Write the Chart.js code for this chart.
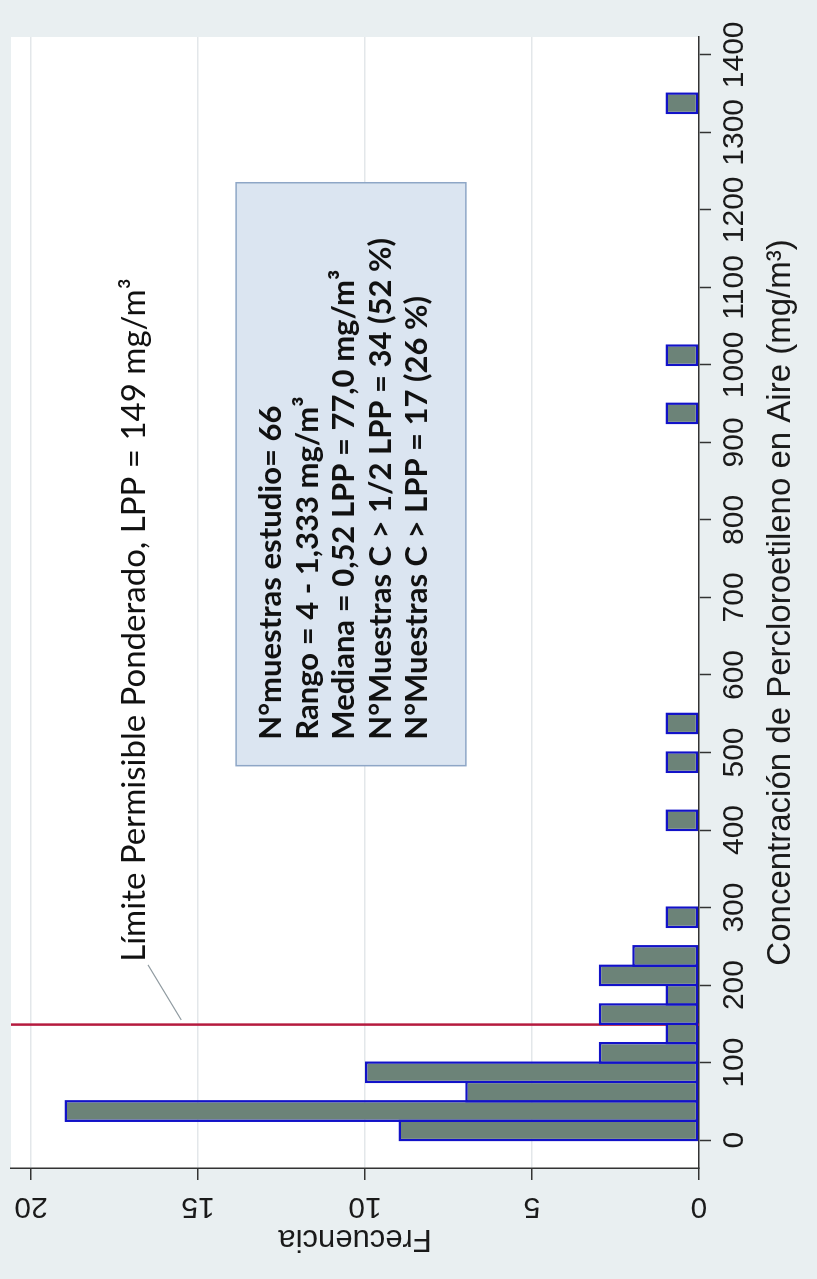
<!DOCTYPE html>
<html>
<head>
<meta charset="utf-8">
<script src="https://cdn.jsdelivr.net/npm/chart.js@4.4.1/dist/chart.umd.min.js"></script>
<style>
  html, body { margin: 0; padding: 0; width: 817px; height: 1279px; overflow: hidden; background: #e9eff1; }
  /* the chart is laid out landscape and turned a quarter turn counter-clockwise */
  #wrap { position: absolute; left: 0; top: 0; width: 1279px; height: 817px;
          transform-origin: 0 0; transform: translateY(1279px) rotate(-90deg); }
  canvas { display: block; }
</style>
</head>
<body>
<div id="wrap"><canvas id="chart" width="1279" height="817"></canvas></div>
<script>
// Histogram of air concentrations (bins of 25 mg/m3, lower edges) and their counts
const binStarts   = [0, 25, 50, 75, 100, 125, 150, 175, 200, 225, 275, 400, 475, 525, 925, 1000, 1325];
const frequencies = [9, 19, 7, 10, 3, 1, 3, 1, 3, 2, 1, 1, 1, 1, 1, 1, 1];
const binWidth = 25;

const concTicks = [0, 100, 200, 300, 400, 500, 600, 700, 800, 900, 1000, 1100, 1200, 1300, 1400];
const freqTicks = [0, 5, 10, 15, 20];

const lppValue = 149;
const lppLabel = 'Límite Permisible Ponderado, LPP = 149 mg/m³';
const statLines = [
  'N°muestras estudio= 66',
  'Rango = 4 - 1,333 mg/m³',
  'Mediana = 0,52 LPP = 77,0 mg/m³',
  'N°Muestras C > 1/2 LPP = 34 (52 %)',
  'N°Muestras C > LPP = 17 (26 %)'
];
const xTitle = 'Concentración de Percloroetileno en Aire (mg/m³)';
const yTitle = 'Frecuencia';

const AXIS_FONT = "'Liberation Sans', Arial, sans-serif";
const NOTE_FONT = "Lato, 'Open Sans', sans-serif";

const histData = frequencies.map((f, i) => ({ x: binStarts[i] + binWidth / 2, y: f }));

// white plot region on the tinted page
const plotBackground = {
  id: 'plotBackground',
  beforeDraw(chart) {
    const { ctx, chartArea: a } = chart;
    ctx.save();
    ctx.fillStyle = '#ffffff';
    ctx.fillRect(a.left, a.top, a.right - a.left, a.bottom - a.top);
    ctx.restore();
  }
};

// reference line at the limit, drawn underneath the bars
const lppLine = {
  id: 'lppLine',
  beforeDatasetsDraw(chart) {
    const { ctx, chartArea, scales } = chart;
    const px = scales.x.getPixelForValue(lppValue);
    ctx.save();
    ctx.strokeStyle = '#b51a3e';
    ctx.lineWidth = 2.5;
    ctx.beginPath();
    ctx.moveTo(px, chartArea.top);
    ctx.lineTo(px, chartArea.bottom);
    ctx.stroke();
    ctx.restore();
  }
};

// limit label with its leader, and the summary box
const notes = {
  id: 'notes',
  afterDatasetsDraw(chart) {
    const { ctx, scales } = chart;
    const X = v => scales.x.getPixelForValue(v);
    const Y = v => scales.y.getPixelForValue(v);
    ctx.save();

    // leader from the label to the line
    ctx.strokeStyle = '#8f9aa0';
    ctx.lineWidth = 1.2;
    ctx.beginPath();
    ctx.moveTo(X(226), Y(16.5));
    ctx.lineTo(X(155), Y(15.5));
    ctx.stroke();

    ctx.fillStyle = '#111';
    ctx.font = '33px ' + NOTE_FONT;
    ctx.textBaseline = 'alphabetic';
    ctx.textAlign = 'left';
    ctx.fillText(lppLabel, X(230), Y(16.6));

    // summary box
    const bx0 = X(483), bx1 = X(1235), by0 = Y(13.86), by1 = Y(6.98);
    ctx.fillStyle = '#dbe5f1';
    ctx.fillRect(bx0, by0, bx1 - bx0, by1 - by0);
    ctx.strokeStyle = '#8ea6c6';
    ctx.lineWidth = 1.5;
    ctx.strokeRect(bx0, by0, bx1 - bx0, by1 - by0);

    ctx.fillStyle = '#111';
    ctx.font = 'bold 31px ' + NOTE_FONT;
    const firstBase = by0 + 45;
    statLines.forEach((t, i) => ctx.fillText(t, bx0 + 26, firstBase + i * 36.5));

    ctx.restore();
  }
};

// keep the plot area where the layout puts it (no extra room for edge labels)
const noEdgePadding = s => { s.paddingTop = 0; s.paddingBottom = 0; s.paddingLeft = 0; s.paddingRight = 0; };

new Chart(document.getElementById('chart'), {
  type: 'bar',
  data: {
    datasets: [{
      data: histData,
      backgroundColor: '#6c8378',
      borderColor: '#1212c8',
      borderWidth: 2.5,
      borderSkipped: false,
      categoryPercentage: 1,
      barPercentage: 1.13
    }]
  },
  options: {
    responsive: false,
    animation: false,
    devicePixelRatio: 1,
    layout: { padding: { top: 11, right: 37, left: 0, bottom: 0 } },
    plugins: { legend: { display: false }, tooltip: { enabled: false } },
    scales: {
      x: {
        type: 'linear',
        offset: false,
        min: -36,
        max: 1423,
        afterBuildTicks: s => { s.ticks = concTicks.map(v => ({ value: v })); },
        afterFit: s => { s.height = 118; noEdgePadding(s); },
        ticks: {
          autoSkip: false, minRotation: 0, maxRotation: 0,
          color: '#1a1a1a', padding: 6,
          font: { family: AXIS_FONT, size: 30 },
          callback: v => String(v)
        },
        grid: { offset: false, drawOnChartArea: false, drawTicks: true, tickLength: 12, tickColor: '#333', tickWidth: 1.5 },
        border: { display: true, color: '#333', width: 1.5 },
        title: {
          display: true, text: xTitle, color: '#1a1a1a',
          font: { family: AXIS_FONT, size: 33 }, padding: { top: 0, bottom: 16 }
        }
      },
      y: {
        type: 'linear',
        min: 0,
        max: 20.6,
        afterBuildTicks: s => { s.ticks = freqTicks.map(v => ({ value: v })); },
        afterFit: s => { s.width = 111; noEdgePadding(s); },
        ticks: {
          autoSkip: false, minRotation: 90, maxRotation: 90, crossAlign: 'center',
          color: '#1a1a1a', padding: 10,
          font: { family: AXIS_FONT, size: 30 },
          callback: v => String(v)
        },
        grid: { color: '#e3e7ea', lineWidth: 1.5, tickLength: 12, tickColor: '#333', tickWidth: 1.5 },
        border: { display: true, color: '#333', width: 1.5 },
        title: {
          display: true, text: yTitle, color: '#1a1a1a',
          font: { family: AXIS_FONT, size: 31 }, padding: { top: 22, bottom: 0 }
        }
      }
    }
  },
  plugins: [plotBackground, lppLine, notes]
});
</script>
</body>
</html>
